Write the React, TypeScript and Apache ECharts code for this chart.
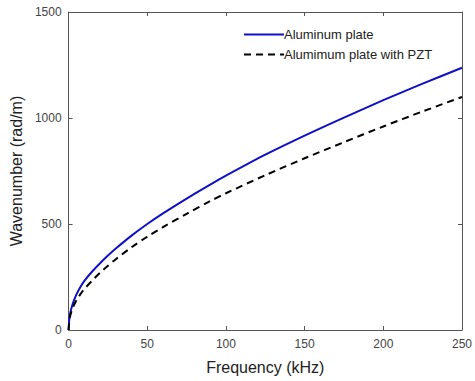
import React, { useEffect, useRef } from "react";
import * as echarts from "echarts";

const frequency = [0, 0.5, 1, 2, 3, 5, 7.5, 10, 15, 20, 25, 30, 40, 50, 60, 75, 90, 100, 125, 150, 175, 200, 225, 250];
const aluminum = [0, 55, 78, 108, 132, 168, 203, 232, 276, 315, 351, 384, 445, 500, 550, 620, 686, 728, 827, 917, 1002, 1084, 1162, 1237];
const aluminumPZT = [0, 47, 66, 92, 111, 140, 169, 193, 233, 270, 303, 334, 390, 440, 485, 548, 608, 645, 730, 810, 886, 960, 1031, 1099];
const seriesNames = ["Aluminum plate", "Alumimum plate with PZT"];

export default function App() {
  const ref = useRef<HTMLDivElement>(null);
  useEffect(() => {
    if (!ref.current) return;
    const chart = echarts.init(ref.current, null, { renderer: "svg" });
    const font = "Liberation Sans, Arial, sans-serif";
    const axisLine = { show: true, onZero: false, lineStyle: { color: "#555", width: 1 } };
    const tick = { show: true, inside: true, length: 4, lineStyle: { color: "#555" } };
    const plain = (v: number) => String(v);
    chart.setOption({
      animation: false,
      backgroundColor: "#fff",
      grid: { left: 65, right: 8, top: 12, bottom: 51, containLabel: false },
      legend: {
        left: 238,
        top: 23,
        orient: "vertical",
        itemWidth: 40,
        itemHeight: 12,
        itemGap: 7,
        itemStyle: { opacity: 0 },
        textStyle: { fontFamily: font, fontSize: 13, color: "#222", padding: [0, 0, 0, -5] },
        data: seriesNames,
      },
      xAxis: [
        {
          type: "value",
          min: 0,
          max: 250,
          interval: 50,
          name: "Frequency (kHz)",
          nameLocation: "middle",
          nameGap: 29,
          nameTextStyle: { fontFamily: font, fontSize: 16, color: "#222" },
          axisLine,
          axisTick: tick,
          axisLabel: { fontFamily: font, fontSize: 12, color: "#444", margin: 8, formatter: plain },
          splitLine: { show: false },
        },
        {
          type: "value",
          position: "top",
          min: 0,
          max: 250,
          interval: 50,
          axisLine,
          axisTick: tick,
          axisLabel: { show: false },
          splitLine: { show: false },
        },
      ],
      yAxis: [
        {
          type: "value",
          min: 0,
          max: 1500,
          interval: 500,
          name: "Wavenumber (rad/m)",
          nameLocation: "middle",
          nameGap: 40,
          nameTextStyle: { fontFamily: font, fontSize: 16, color: "#222" },
          axisLine,
          axisTick: tick,
          axisLabel: { fontFamily: font, fontSize: 12, color: "#444", margin: 7, formatter: plain },
          splitLine: { show: false },
        },
        {
          type: "value",
          position: "right",
          min: 0,
          max: 1500,
          interval: 500,
          axisLine,
          axisTick: tick,
          axisLabel: { show: false },
          splitLine: { show: false },
        },
      ],
      series: [
        {
          name: seriesNames[0],
          type: "line",
          smooth: 0.3,
          symbol: "none",
          data: frequency.map((f, i) => [f, aluminum[i]]),
          lineStyle: { color: "#1010c8", width: 2 },
          itemStyle: { color: "#1010c8" },
        },
        {
          name: seriesNames[1],
          type: "line",
          smooth: 0.3,
          symbol: "none",
          data: frequency.map((f, i) => [f, aluminumPZT[i]]),
          lineStyle: { color: "#000", width: 2, type: [7, 5] },
          itemStyle: { color: "#000" },
        },
      ],
    });
    return () => chart.dispose();
  }, []);
  return (
    <div
      ref={ref}
      style={{ position: "fixed", left: 0, top: 0, width: 475, height: 381 }}
    />
  );
}
